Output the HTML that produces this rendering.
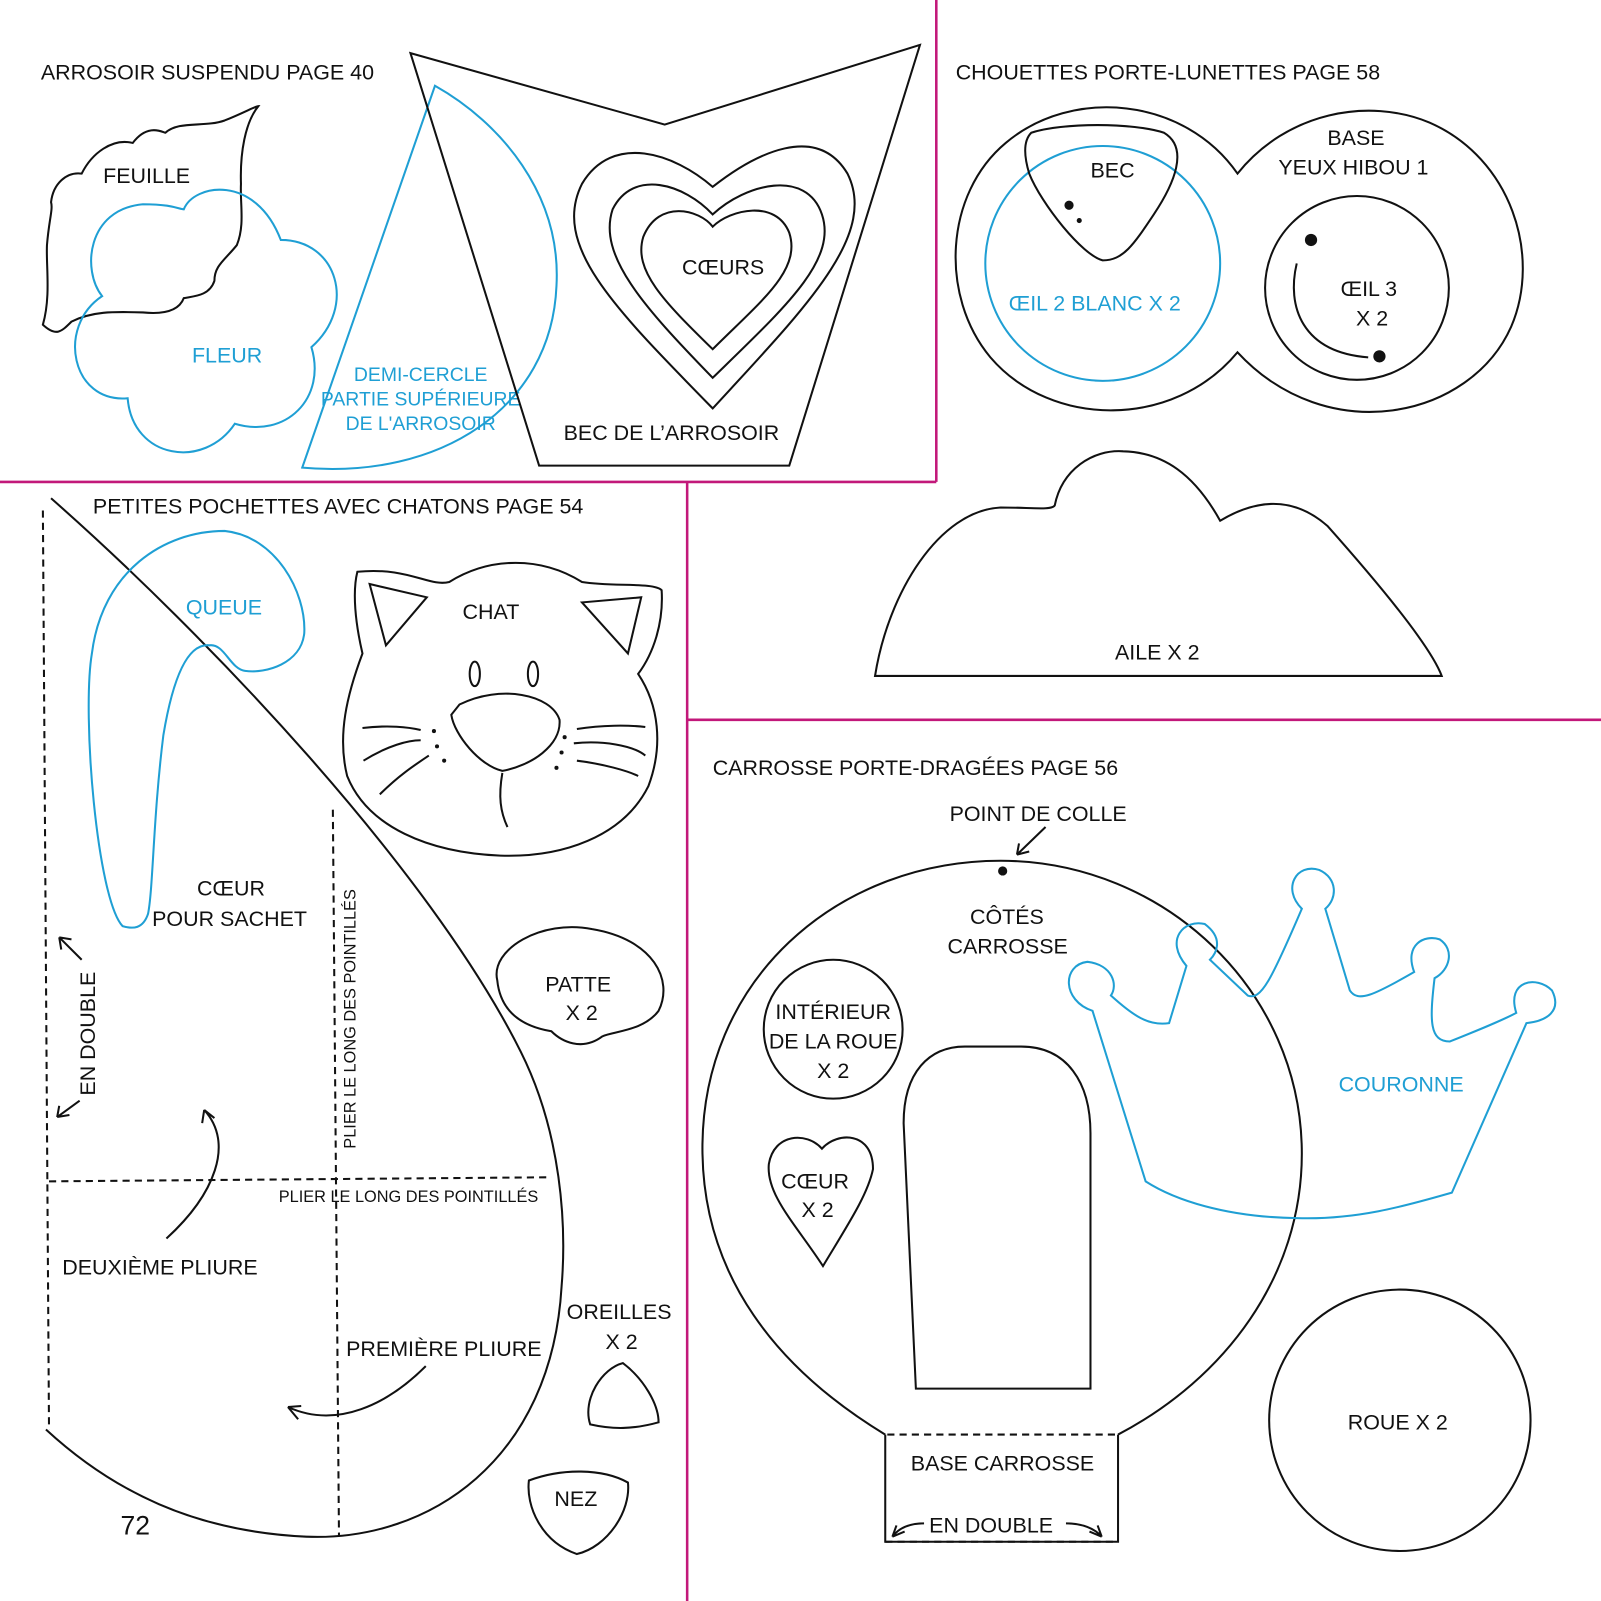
<!DOCTYPE html>
<html><head><meta charset="utf-8"><style>
html,body{margin:0;padding:0;background:#fff}
svg{display:block}
text{font-family:"Liberation Sans",sans-serif;font-size:21px;fill:#111}
.b{fill:#1f9fd4}
.s{font-size:16px}
.s19{font-size:19px}
.k{fill:none;stroke:#111;stroke-width:2}
.c{fill:none;stroke:#1f9fd4;stroke-width:2}
.d{fill:none;stroke:#111;stroke-width:2;stroke-dasharray:7 5}
.m{stroke:#c2187a;stroke-width:2.5}
</style></head><body>
<svg width="1601" height="1601" viewBox="0 0 1568 1568" xmlns="http://www.w3.org/2000/svg">
<line class="m" x1="917" y1="0" x2="917" y2="472"/>
<line class="m" x1="0" y1="472" x2="917" y2="472"/>
<line class="m" x1="673" y1="472" x2="673" y2="1568"/>
<line class="m" x1="673" y1="705" x2="1568" y2="705"/>

<text x="40" y="78">ARROSOIR SUSPENDU PAGE 40</text>
<path class="k" d="M42,318 C50,290 45,260 46,240 C48,215 52,205 50,198 C52,180 65,168 80,170 C90,150 110,135 130,140 C145,120 160,130 162,130 C175,118 200,125 220,118 C240,110 250,104 253,104 C240,120 235,150 236,180 C235,200 240,220 232,240 C220,255 210,260 210,275 C205,290 190,290 180,292 C175,305 160,308 140,306 C110,305 90,305 70,315 C60,325 55,330 42,318 Z"/>
<text x="101" y="179">FEUILLE</text>
<path class="c" d="M100,290 C80,265 85,205 140,200 C170,200 175,205 180,205 C190,180 250,170 275,235 C330,235 350,300 305,340 C320,390 280,430 230,415 C200,460 130,450 125,390 C70,395 55,320 100,290 Z"/>
<text class="b" x="188" y="355">FLEUR</text>
<path class="c" d="M426,84 C490,120 550,190 545,280 C540,400 430,470 296,458 Z"/>
<text class="b s19" x="412" y="373" text-anchor="middle">DEMI-CERCLE</text>
<text class="b s19" x="412" y="397" text-anchor="middle">PARTIE SUPÉRIEURE</text>
<text class="b s19" x="412" y="421" text-anchor="middle">DE L'ARROSOIR</text>
<path class="k" d="M402,52 L651,122 L901,44 L773,456 L528,456 Z"/>
<path class="k" d="M698,400 C600,300 540,240 570,180 C600,130 660,150 698,183 C740,150 800,120 830,170 C860,230 790,300 698,400 Z"/>
<path class="k" d="M698,370 C630,300 585,250 600,205 C620,165 670,180 698,210 C730,180 790,165 805,210 C820,255 770,300 698,370 Z"/>
<path class="k" d="M698,342 C650,295 620,265 630,232 C645,195 685,205 698,222 C715,205 760,195 773,228 C785,265 745,295 698,342 Z"/>
<text x="668" y="269">CŒURS</text>
<text x="552" y="431">BEC DE L’ARROSOIR</text>

<text x="936" y="78">CHOUETTES PORTE-LUNETTES PAGE 58</text>
<path class="k" d="M1212,170 C1260,110 1340,95 1400,120 C1480,155 1510,250 1480,320 C1440,410 1300,440 1212,345 C1150,420 1030,420 970,350 C920,290 925,190 985,140 C1050,85 1160,95 1212,170 Z"/>
<circle class="c" cx="1080" cy="258" r="115"/>
<text class="b" x="988" y="304">ŒIL 2 BLANC X 2</text>
<path class="k" d="M1010,130 C1040,120 1110,120 1140,130 C1165,145 1150,180 1130,210 C1110,240 1100,255 1080,255 C1060,250 1020,200 1008,170 C1002,150 1003,137 1010,130 Z"/>
<text x="1068" y="174">BEC</text>
<circle cx="1047" cy="201" r="4.5" fill="#111"/>
<circle cx="1057" cy="216" r="2.5" fill="#111"/>
<text x="1300" y="142">BASE</text>
<text x="1252" y="171">YEUX HIBOU 1</text>
<circle class="k" cx="1329" cy="282" r="90"/>
<circle cx="1284" cy="235" r="6" fill="#111"/>
<circle cx="1351" cy="349" r="6" fill="#111"/>
<path class="k" d="M1270,258 C1260,300 1275,345 1340,350"/>
<text x="1313" y="290">ŒIL 3</text>
<text x="1328" y="319">X 2</text>
<path class="k" d="M857,662 C870,580 920,500 980,497 C1010,497 1030,500 1033,495 C1040,460 1070,440 1100,442 C1140,443 1170,465 1195,510 C1220,495 1260,480 1300,515 C1340,560 1400,630 1412,662 Z"/>
<text x="1092" y="646">AILE X 2</text>

<text x="91" y="503">PETITES POCHETTES AVEC CHATONS PAGE 54</text>
<path class="k" d="M50,488 C200,620 420,850 510,1030 C550,1110 555,1200 550,1260 C540,1430 420,1510 300,1505 C190,1500 110,1460 45,1400"/>
<line class="d" x1="42" y1="500" x2="48" y2="1400"/>
<line class="d" x1="48" y1="1157" x2="540" y2="1153"/>
<line class="d" x1="326" y1="793" x2="332" y2="1505"/>
<path class="c" d="M120,907 C95,880 80,700 90,640 C100,560 160,520 220,520 C270,525 300,580 298,620 C295,650 260,660 240,657 C225,655 220,630 205,632 C185,630 170,660 160,720 C150,800 150,870 145,895 C140,910 130,910 120,907 Z"/>
<text class="b" x="182" y="602">QUEUE</text>
<text x="193" y="877">CŒUR</text>
<text x="149" y="907">POUR SACHET</text>
<text class="s" x="348" y="1125" transform="rotate(-90 348 1125)">PLIER LE LONG DES POINTILLÉS</text>
<text class="s" x="273" y="1177">PLIER LE LONG DES POINTILLÉS</text>
<text x="93" y="1073" transform="rotate(-90 93 1073)">EN DOUBLE</text>
<path class="k" d="M80,940 L58,918 M58,918 L60,930 M58,918 L70,920"/>
<path class="k" d="M78,1078 L56,1094 M56,1094 L68,1092 M56,1094 L58,1083"/>
<path class="k" d="M163,1213 C210,1170 230,1120 200,1087 M200,1087 L198,1100 M200,1087 L210,1095"/>
<text x="61" y="1248">DEUXIÈME PLIURE</text>
<text x="339" y="1328">PREMIÈRE PLIURE</text>
<path class="k" d="M417,1338 C380,1375 330,1400 282,1378 M282,1378 L292,1390 M282,1378 L295,1377"/>
<text x="118" y="1503" style="font-size:26px">72</text>
<path class="k" d="M350,560 C400,555 420,575 440,570 C480,545 530,545 570,570 C600,575 640,570 648,578 C650,610 640,640 625,660 C645,690 650,730 635,770 C610,820 550,840 490,838 C420,835 360,810 340,760 C330,720 340,680 355,640 C348,610 345,580 350,560 Z"/>
<path class="k" d="M362,572 L418,585 L378,632 Z"/>
<path class="k" d="M628,585 L570,590 L615,640 Z"/>
<text x="453" y="606">CHAT</text>
<ellipse class="k" cx="465" cy="660" rx="5" ry="12"/>
<ellipse class="k" cx="522" cy="660" rx="5" ry="12"/>
<path class="k" d="M450,690 C490,670 540,680 548,705 C550,730 520,750 492,755 C470,750 445,720 442,700 Z"/>
<path class="k" d="M492,757 C488,780 490,795 497,810"/>
<path class="k" d="M355,713 C380,710 400,712 412,715 M356,745 C380,730 400,725 412,725 M372,778 C390,760 405,750 420,740"/>
<path class="k" d="M565,714 C590,710 615,710 632,712 M562,728 C590,725 620,730 632,740 M565,745 C590,748 615,755 625,760"/>
<circle cx="425" cy="716" r="2" fill="#111"/><circle cx="428" cy="731" r="2" fill="#111"/><circle cx="435" cy="745" r="2" fill="#111"/>
<circle cx="553" cy="722" r="2" fill="#111"/><circle cx="550" cy="737" r="2" fill="#111"/><circle cx="545" cy="752" r="2" fill="#111"/>
<path class="k" d="M487,960 C480,930 530,900 580,910 C640,920 660,960 645,990 C630,1010 600,1010 590,1015 C570,1030 550,1020 540,1010 C510,1005 490,990 487,960 Z"/>
<text x="534" y="971">PATTE</text>
<text x="554" y="999">X 2</text>
<text x="555" y="1292">OREILLES</text>
<text x="593" y="1321">X 2</text>
<path class="k" d="M578,1395 C570,1370 590,1340 610,1335 C630,1350 645,1375 645,1393 C620,1400 600,1400 578,1395 Z"/>
<path class="k" d="M518,1450 C550,1438 590,1438 615,1452 C618,1480 595,1515 565,1522 C530,1510 515,1475 518,1450 Z"/>
<text x="543" y="1475">NEZ</text>

<text x="698" y="759">CARROSSE PORTE-DRAGÉES PAGE 56</text>
<text x="930" y="804">POINT DE COLLE</text>
<path class="k" d="M1024,810 L996,837 M996,837 L1008,834 M996,837 L998,826"/>
<circle cx="982" cy="853" r="4.5" fill="#111"/>
<path class="k" d="M867,1405 C760,1340 690,1250 688,1130 C685,960 820,843 980,843 C1140,843 1275,970 1275,1130 C1275,1250 1200,1350 1095,1405"/>
<path class="k" d="M867,1405 L867,1510 L1095,1510 L1095,1405"/>
<line class="d" x1="869" y1="1405" x2="1093" y2="1405"/>
<line class="d" x1="867" y1="1510" x2="1095" y2="1510"/>
<text x="950" y="905">CÔTÉS</text>
<text x="928" y="934">CARROSSE</text>
<circle class="k" cx="816" cy="1008" r="68"/>
<text x="816" y="998" text-anchor="middle">INTÉRIEUR</text>
<text x="816" y="1027" text-anchor="middle">DE LA ROUE</text>
<text x="816" y="1056" text-anchor="middle">X 2</text>
<path class="k" d="M806,1240 C780,1200 750,1170 753,1140 C758,1110 790,1108 805,1125 C820,1108 855,1108 855,1145 C850,1170 830,1200 806,1240 Z"/>
<text x="765" y="1164">CŒUR</text>
<text x="785" y="1192">X 2</text>
<path class="k" d="M897,1360 L885,1100 C885,1050 910,1025 945,1025 L1000,1025 C1045,1025 1068,1060 1068,1110 L1068,1360 Z"/>
<text x="892" y="1440">BASE CARROSSE</text>
<text x="910" y="1501">EN DOUBLE</text>
<path class="k" d="M905,1492 C890,1492 880,1497 874,1505 M874,1505 L886,1500 M874,1505 L878,1494"/>
<path class="k" d="M1044,1492 C1060,1492 1072,1497 1079,1505 M1079,1505 L1067,1500 M1079,1505 L1075,1494"/>
<path class="c" d="M1122,1157 L1070,990 C1040,980 1040,945 1065,942 C1090,945 1095,965 1088,975 C1110,995 1125,1005 1145,1002 L1162,946 C1140,920 1160,900 1180,905 C1200,920 1190,935 1185,940 L1222,975 C1235,980 1245,960 1275,890 C1255,870 1270,845 1292,852 C1310,860 1310,880 1298,890 L1322,970 C1330,982 1345,975 1385,952 C1375,925 1395,915 1410,920 C1425,930 1420,950 1405,958 C1400,1000 1400,1020 1420,1020 C1445,1010 1470,1000 1485,992 C1475,960 1505,955 1520,970 C1530,990 1515,1000 1495,1002 L1422,1168 C1380,1180 1330,1195 1270,1193 C1200,1192 1150,1175 1122,1157 Z"/>
<text class="b" x="1311" y="1069">COURONNE</text>
<circle class="k" cx="1371" cy="1391" r="128"/>
<text x="1320" y="1400">ROUE X 2</text>
</svg>
</body></html>
